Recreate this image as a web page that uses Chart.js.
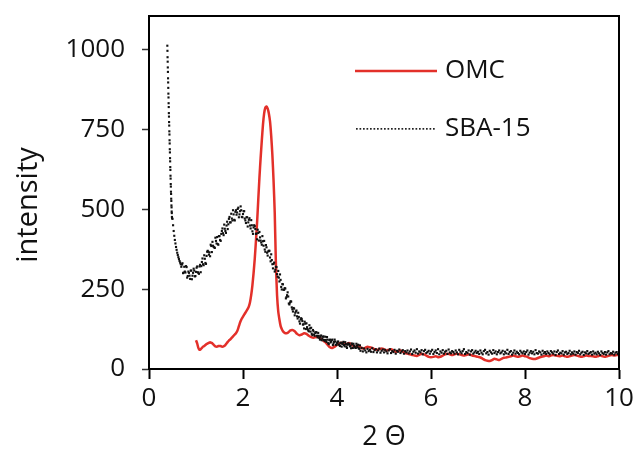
<!DOCTYPE html>
<html>
<head>
<meta charset="utf-8">
<script src="https://cdn.jsdelivr.net/npm/chart.js@4.4.1/dist/chart.umd.min.js"></script>
<style>
  html, body { margin: 0; padding: 0; background: #fff; }
  #wrap { width: 638px; height: 455px; }
</style>
</head>
<body>
<div id="wrap"><canvas id="xrd"></canvas></div>
<script>
// axis ticks
var xTicks = [0, 2, 4, 6, 8, 10];
var yTicks = [0, 250, 500, 750, 1000];

// SBA-15: steep head, 0.390 .. 0.490 every 0.0025
var sbaHeadStart = 0.39, sbaHeadStep = 0.0025;
var sbaHeadY = [1012, 996, 976, 962, 944, 930, 910, 897, 880, 862, 850, 832, 820, 801, 790, 773,
  762, 744, 734, 716, 706, 688, 678, 660, 650, 632, 623, 605, 596, 579, 571, 555, 548, 533,
  526, 512, 506, 493, 488, 476, 472];

// SBA-15: 0.500 .. 10.000 every 0.025
var sbaStart = 0.5, sbaStep = 0.025;
var sbaY = [
  470, 432, 404, 382, 364, 350, 338, 328, 327, 300, 320, 302, 319, 291, 301, 282, 308, 292, 314, 290,
  304, 321, 301, 321, 303, 335, 328, 356, 332, 354, 370, 358, 353, 385, 398, 382, 379, 401, 413, 389,
  416, 401, 432, 425, 452, 432, 449, 438, 470, 459, 486, 465, 484, 465, 497, 490, 505, 484, 509, 476,
  485, 494, 465, 475, 446, 467, 449, 466, 431, 443, 447, 423, 406, 426, 429, 402, 389, 400, 401, 367,
  381, 355, 370, 349, 359, 328, 329, 305, 320, 297, 307, 274, 279, 249, 265, 248, 252, 225, 240, 205,
  208, 211, 187, 191, 168, 180, 165, 176, 149, 155, 156, 139, 127, 142, 143, 125, 118, 127, 129, 106,
  118, 104, 115, 104, 113, 97, 101, 90, 101, 91, 101, 85, 92, 78, 92, 86, 92, 80, 92, 76,
  81, 86, 75, 82, 70, 82, 75, 84, 70, 76, 79, 71, 65, 77, 79, 70, 66, 73, 76, 63,
  57, 66, 55, 64, 58, 52, 63, 56, 60, 54, 65, 53, 59, 62, 52, 58, 64, 51, 57, 61,
  52, 60, 55, 49, 58, 62, 50, 56, 53, 60, 48, 57, 54, 61, 50, 55, 59, 48, 56, 52,
  58, 49, 55, 61, 47, 54, 58, 51, 62, 48, 55, 52, 59, 46, 56, 60, 50, 53, 57, 48,
  55, 60, 47, 53, 58, 50, 62, 46, 55, 51, 59, 48, 54, 57, 47, 61, 52, 49, 56, 53,
  48, 58, 52, 46, 60, 54, 49, 56, 62, 47, 53, 50, 58, 45, 55, 59, 48, 52, 57, 50,
  54, 47, 58, 51, 46, 56, 60, 49, 53, 45, 57, 52, 48, 59, 50, 55, 46, 53, 58, 49,
  52, 57, 46, 54, 49, 60, 47, 53, 56, 45, 51, 58, 48, 54, 50, 46, 57, 52, 49, 55,
  47, 53, 58, 45, 51, 56, 49, 54, 46, 59, 50, 48, 55, 52, 45, 57, 49, 53, 47, 55,
  50, 46, 56, 52, 48, 55, 44, 53, 58, 47, 51, 49, 56, 45, 52, 54, 47, 50, 57, 46,
  52, 48, 55, 45, 53, 50, 57, 46, 51, 54, 44, 52, 49, 56, 47, 50, 53, 45, 55, 48,
  51, 46, 54, 49, 44, 55, 50, 47, 53, 45, 52, 56, 46, 50, 48, 54, 45, 51, 53, 47,
  50
];

// SBA-15: in-between readings, 0.5125 .. 4.4875 every 0.025
var sbaMidStart = 0.5125, sbaMidStep = 0.025;
var sbaMidY = [
  450, 417, 393, 373, 357, 344, 333, 320, 331, 302, 305, 322, 286, 305, 292, 308, 281, 301, 308, 291,
  317, 303, 298, 326, 322, 346, 325, 345, 329, 367, 367, 365, 389, 366, 386, 381, 411, 393, 391, 416,
  404, 423, 440, 419, 439, 426, 461, 453, 476, 459, 471, 497, 467, 492, 483, 501, 475, 494, 497, 475,
  494, 471, 457, 475, 459, 472, 440, 450, 423, 450, 438, 424, 436, 402, 412, 396, 416, 386, 374, 388,
  364, 368, 370, 337, 341, 315, 333, 311, 319, 289, 286, 296, 257, 266, 248, 253, 221, 231, 227, 202,
  212, 193, 180, 189, 176, 183, 158, 163, 142, 159, 150, 140, 148, 125, 131, 121, 137, 117, 110, 122,
  108, 113, 115, 99, 104, 92, 105, 95, 102, 88, 91, 100, 81, 90, 83, 90, 75, 85, 86, 75,
  85, 77, 72, 82, 78, 85, 71, 78, 66, 80, 77, 72, 80, 66, 73, 67, 79, 68, 65, 74
];

// OMC: 1.000 .. 3.000 every 0.025
var omcPeakStart = 1.0, omcPeakStep = 0.025;
var omcPeakY = [
  90, 80, 66, 60, 62, 66, 70, 72, 75, 78, 80, 82, 84, 82, 80, 76, 72, 70, 70, 72,
  72, 72, 70, 70, 72, 75, 80, 85, 89, 92, 96, 100, 104, 108, 112, 118, 128, 140, 150, 158,
  164, 170, 176, 182, 188, 196, 210, 232, 262, 300, 345, 400, 460, 530, 600, 660, 715, 765, 800, 818,
  822, 815, 800, 775, 730, 670, 590, 490, 330, 230, 180, 155, 135, 125, 118, 114, 112, 112, 113, 116,
  120
];
// OMC: 3.05 .. 10.00 every 0.05
var omcTailStart = 3.05, omcTailStep = 0.05;
var omcTailY = [
  122, 118, 110, 106, 108, 112, 110, 104, 100, 98, 100, 100, 96, 90, 84, 76, 68, 66, 70, 76,
  80, 82, 80, 78, 81, 78, 72, 70, 72, 68, 64, 66, 70, 68, 66, 62, 60, 62, 64, 62,
  58, 60, 62, 58, 54, 56, 58, 54, 50, 48, 46, 44, 42, 41, 44, 48, 46, 42, 38, 37,
  38, 40, 37, 38, 42, 46, 48, 46, 44, 46, 48, 46, 44, 42, 44, 46, 44, 41, 40, 38,
  36, 32, 28, 26, 25, 28, 32, 30, 28, 32, 35, 36, 38, 40, 42, 40, 38, 40, 42, 40,
  38, 34, 32, 31, 33, 36, 38, 40, 42, 40, 42, 44, 42, 41, 40, 42, 40, 38, 40, 42,
  44, 42, 40, 38, 40, 42, 41, 41, 40, 38, 40, 42, 40, 38, 40, 42, 44, 42, 44, 44
];

var seriesNames = ['OMC', 'SBA-15'];
var xTitle = '2 Θ';
var yTitle = 'intensity';

function toPoints(start, step, ys) {
  return ys.map(function(v, i) {
    return { x: +(start + i * step).toFixed(4), y: v };
  });
}

var omcData = toPoints(omcPeakStart, omcPeakStep, omcPeakY)
  .concat(toPoints(omcTailStart, omcTailStep, omcTailY));
var sbaData = toPoints(sbaHeadStart, sbaHeadStep, sbaHeadY)
  .concat(toPoints(sbaStart, sbaStep, sbaY))
  .concat(toPoints(sbaMidStart, sbaMidStep, sbaMidY));

var FONT = '"Open Sans", "Liberation Sans", sans-serif';
var TEXT = '#111';
var RED = '#e3302a';

// closes the plot box on the top and right, writes the y title
var frame = {
  id: 'frame',
  afterDraw: function(chart) {
    var a = chart.chartArea, ctx = chart.ctx;
    ctx.save();
    ctx.strokeStyle = '#000';
    ctx.lineWidth = 2;
    ctx.beginPath();
    ctx.moveTo(a.left, a.top);
    ctx.lineTo(a.right, a.top);
    ctx.lineTo(a.right, a.bottom);
    ctx.stroke();

    ctx.translate(29, 205);
    ctx.rotate(-Math.PI / 2);
    ctx.font = '29px ' + FONT;
    ctx.fillStyle = TEXT;
    ctx.textAlign = 'center';
    ctx.textBaseline = 'middle';
    ctx.fillText(yTitle, 0, 0);
    ctx.restore();
  }
};

// legend inside the plot
var insideLegend = {
  id: 'insideLegend',
  afterDraw: function(chart) {
    var ctx = chart.ctx;
    ctx.save();
    ctx.font = '26px ' + FONT;
    ctx.textBaseline = 'middle';
    ctx.textAlign = 'left';
    // OMC
    ctx.strokeStyle = RED;
    ctx.lineWidth = 2.5;
    ctx.beginPath();
    ctx.moveTo(355, 71);
    ctx.lineTo(437, 71);
    ctx.stroke();
    ctx.fillStyle = TEXT;
    ctx.fillText(chart.data.datasets[0].label, 445, 71);
    // SBA-15
    ctx.fillStyle = '#222';
    for (var x = 356; x <= 433; x += 3.5) {
      ctx.fillRect(x, 128, 1.7, 1.7);
    }
    ctx.fillStyle = TEXT;
    ctx.fillText(chart.data.datasets[1].label, 445, 129);
    ctx.restore();
  }
};

new Chart(document.getElementById('xrd'), {
  type: 'scatter',
  data: {
    datasets: [{
      label: seriesNames[0],
      data: omcData,
      showLine: true,
      borderColor: RED,
      borderWidth: 2.5,
      pointRadius: 0,
      tension: 0.2,
      order: 2
    }, {
      label: seriesNames[1],
      data: sbaData,
      showLine: false,
      pointStyle: 'rect',
      pointRadius: 1.5,
      pointBorderWidth: 0,
      backgroundColor: '#111',
      order: 1
    }]
  },
  options: {
    responsive: true,
    maintainAspectRatio: false,
    animation: false,
    events: [],
    layout: { padding: { top: 16, right: 19, left: 0, bottom: 0 } },
    plugins: {
      legend: { display: false },
      tooltip: { enabled: false }
    },
    scales: {
      x: {
        type: 'linear',
        min: 0,
        max: 10,
        afterFit: function(s) { s.height = 86; s.paddingLeft = 0; s.paddingRight = 0; },
        afterBuildTicks: function(s) { s.ticks = xTicks.map(function(v) { return { value: v }; }); },
        ticks: { font: { family: FONT, size: 26 }, color: TEXT, padding: 4, maxRotation: 0 },
        grid: { drawOnChartArea: false, drawTicks: true, tickLength: 10, tickWidth: 2, tickColor: '#000' },
        border: { color: '#000', width: 2 },
        title: { display: true, text: xTitle, font: { family: FONT, size: 27 }, color: TEXT, padding: { top: 0, bottom: 1 } }
      },
      y: {
        min: 0,
        max: 1105,
        afterFit: function(s) { s.width = 149; s.paddingTop = 0; s.paddingBottom = 0; },
        afterBuildTicks: function(s) { s.ticks = yTicks.map(function(v) { return { value: v }; }); },
        ticks: {
          font: { family: FONT, size: 26 }, color: TEXT, padding: 17,
          callback: function(v) { return String(v); }
        },
        grid: { drawOnChartArea: false, drawTicks: true, tickLength: 7, tickWidth: 1.5, tickColor: '#333' },
        border: { color: '#000', width: 2 },
        title: { display: false }
      }
    }
  },
  plugins: [frame, insideLegend]
});
</script>
</body>
</html>
